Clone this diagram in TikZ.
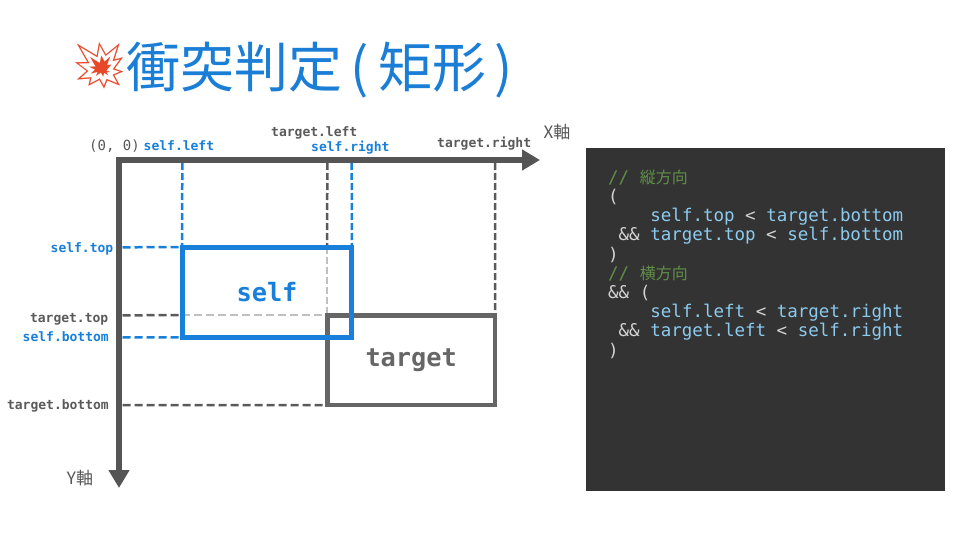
\documentclass[tikz,border=0pt]{standalone}
\usepackage{fontspec}
\setmonofont{DejaVu Sans Mono}
\newfontfamily\jp{Noto Sans CJK JP}
\newfontfamily\emo{Noto Emoji}
\usetikzlibrary{arrows.meta}
\definecolor{tblue}{RGB}{26,125,214}
\definecolor{rblue}{RGB}{24,128,218}
\definecolor{axisgray}{RGB}{85,85,85}
\definecolor{tgray}{RGB}{102,102,102}
\definecolor{dgray}{RGB}{90,90,90}
\definecolor{lgray}{RGB}{192,192,192}
\definecolor{panel}{RGB}{51,51,51}
\definecolor{cblue}{RGB}{140,202,238}
\definecolor{cgreen}{RGB}{96,142,72}
\definecolor{cop}{RGB}{212,212,212}
\definecolor{emocol}{RGB}{232,72,42}
\tikzset{
  axis/.style={draw=axisgray, line width=6pt, line join=miter},
  selfbox/.style={draw=rblue, line width=4.8pt, text=rblue, inner sep=0,
    font={\ttfamily\bfseries\fontsize{25.3}{28}\selectfont}},
  targetbox/.style={draw=tgray, line width=4.5pt, text=tgray, inner sep=0,
    font={\ttfamily\bfseries\fontsize{25.3}{28}\selectfont}},
  lbl/.style={inner sep=0, font={\ttfamily\bfseries\fontsize{13}{14}\selectfont}},
  bluedash/.style={draw=rblue, line width=2.5pt, dash pattern=on 8pt off 4pt},
  graydash/.style={draw=dgray, line width=2.5pt, dash pattern=on 8pt off 4pt},
  lightdash/.style={draw=lgray, line width=2.5pt, dash pattern=on 8pt off 4pt},
  vbluedash/.style={draw=rblue, line width=2.5pt, dash pattern=on 7pt off 3pt},
  vgraydash/.style={draw=dgray, line width=2.5pt, dash pattern=on 7pt off 3pt},
  vlightdash/.style={draw=lgray, line width=2.5pt, dash pattern=on 7pt off 3pt},
  codeln/.style={anchor=base west, inner sep=0, text=cop,
    font={\ttfamily\fontsize{17.5}{19}\selectfont}},
  axlbl/.style={inner sep=0, text=axisgray, font={\jp\fontsize{17}{19}\selectfont}},
}
\newcommand{\cjkc}[1]{{\jp\fontsize{16}{19}\selectfont #1}}
\begin{document}
\begin{tikzpicture}[x=1pt,y=-1pt]
\useasboundingbox[fill=white] (0,0) rectangle (960,540);

% title
\node[inner sep=0, text=emocol, font={\emo\fontsize{46}{50}\selectfont}] (emoji) at (100,66) {💥};
\node[anchor=base west, inner sep=0, text=tblue, font={\jp\fontsize{54}{60}\selectfont}] (title) at (126,88) {衝突判定\kern8pt(\kern10pt矩形\kern8pt)};

% coordinates
\coordinate (o) at (119,160);
\coordinate (xtip) at (540,160);
\coordinate (ytip) at (119,488);
\coordinate (sl) at (182.3,163);
\coordinate (sr) at (351.7,163);
\coordinate (tl) at (327.3,163);
\coordinate (tr) at (495,163);
\coordinate (st) at (122.5,247.3);
\coordinate (tt) at (122.5,315.3);
\coordinate (sb) at (122.5,337.3);
\coordinate (tb) at (122.5,405);

% box outlines used as guide targets
\path (411.2,360.2) node[minimum width=167.7pt, minimum height=89.7pt] (tgtshape) {};
\path (267,292.3) node[minimum width=169.4pt, minimum height=90pt] (selfshape) {};

% dashed guides
\draw[vbluedash] (sl) -- (selfshape.north west);
\draw[vbluedash] (sr) -- (selfshape.north east);
\draw[vgraydash] (tl) -- (tgtshape.north west |- selfshape.north);
\draw[vlightdash] (tgtshape.north west |- selfshape.north) -- (tgtshape.north west);
\draw[vgraydash] (tr) -- (tgtshape.north east);
\draw[bluedash] (st) -- (selfshape.north west);
\draw[graydash] (tt) -- (selfshape.west |- tgtshape.north);
\draw[lightdash] (selfshape.west |- tgtshape.north) -- (tgtshape.north west);
\draw[bluedash] (sb) -- (selfshape.south west);
\draw[graydash] (tb) -- (tgtshape.south west);

% rectangles
\node[targetbox, minimum width=167.7pt, minimum height=89.7pt] (target) at (411.2,360.2) {target};
\node[selfbox, minimum width=169.4pt, minimum height=90pt] (self) at (267,292.3) {self};

% axes
\draw[axis, {Triangle[length=18pt,width=20pt]}-{Triangle[length=18pt,width=20pt]}] (xtip) -- (o) -- (ytip);
\node[axlbl] (xlabel) at (557,132) {X軸};
\node[axlbl] (ylabel) at (80,478) {Y軸};

% axis labels
\node[anchor=base east, inner sep=0, text=axisgray, font={\ttfamily\fontsize{14}{15}\selectfont}] (origin) at (140,151) {(0, 0)};
\node[lbl, anchor=base west, text=rblue] (lsl) at (143.5,151) {self.left};
\node[lbl, anchor=base west, text=dgray] (ltl) at (271,137) {target.left};
\node[lbl, anchor=base west, text=rblue] (lsr) at (311,152) {self.right};
\node[lbl, anchor=base west, text=dgray] (ltr) at (437,148) {target.right};
\node[lbl, anchor=base east, text=rblue] (lst) at (113.5,252) {self.top};
\node[lbl, anchor=base east, text=dgray] (ltt) at (108.5,322) {target.top};
\node[lbl, anchor=base east, text=rblue] (lsb) at (109,341) {self.bottom};
\node[lbl, anchor=base east, text=dgray] (ltb) at (109,409) {target.bottom};

% code panel
\node[fill=panel, draw=none, minimum width=359pt, minimum height=343pt, inner sep=0] (panelbox) at (765.5,319.5) {};
\node[codeln] (c1) at (608,183.3) {\textcolor{cgreen}{// \cjkc{縦方向}}};
\node[codeln] (c2) at (608,202.5) {(};
\node[codeln] (c3) at (650.2,221.7) {\textcolor{cblue}{self.top} < \textcolor{cblue}{target.bottom}};
\node[codeln] (c4) at (618.5,240.9) {\&\& \textcolor{cblue}{target.top} < \textcolor{cblue}{self.bottom}};
\node[codeln] (c5) at (608,260.1) {)};
\node[codeln] (c6) at (608,279.3) {\textcolor{cgreen}{// \cjkc{横方向}}};
\node[codeln] (c7) at (608,298.5) {\&\& (};
\node[codeln] (c8) at (650.2,317.7) {\textcolor{cblue}{self.left} < \textcolor{cblue}{target.right}};
\node[codeln] (c9) at (618.5,336.9) {\&\& \textcolor{cblue}{target.left} < \textcolor{cblue}{self.right}};
\node[codeln] (c10) at (608,356.1) {)};
\end{tikzpicture}
\end{document}
